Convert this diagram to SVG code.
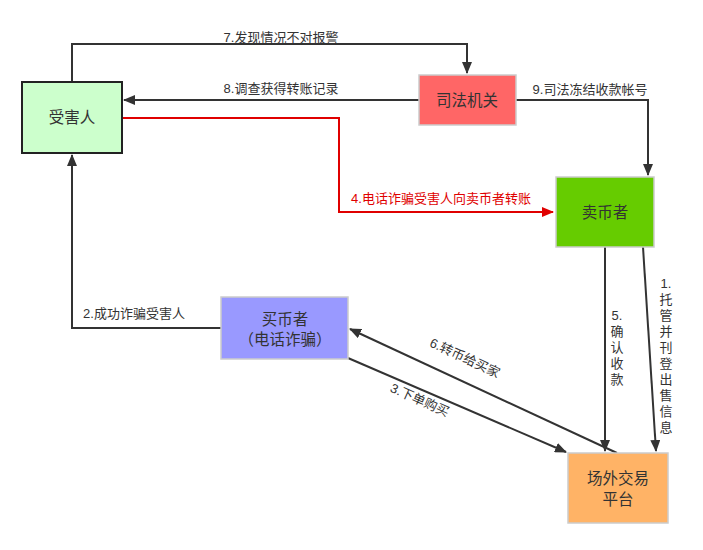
<svg xmlns="http://www.w3.org/2000/svg" width="703" height="550" viewBox="0 0 703 550">
<defs>
<marker id="ah" viewBox="0 0 12 10" refX="11" refY="5" markerWidth="12" markerHeight="10" markerUnits="userSpaceOnUse" orient="auto">
<path d="M0,0 L12,5 L0,10 Z" fill="#333"/>
</marker>
<marker id="ahr" viewBox="0 0 12 10" refX="11" refY="5" markerWidth="12" markerHeight="10" markerUnits="userSpaceOnUse" orient="auto">
<path d="M0,0 L12,5 L0,10 Z" fill="#e00000"/>
</marker>
</defs>
<style>
text{font-family:"Liberation Sans","Noto Sans CJK SC",sans-serif;fill:#333}
.n{font-size:15.5px;text-anchor:middle;dominant-baseline:central}
.l{font-size:13px}
.c{fill:none;stroke:#333;stroke-width:2}
.r{fill:none;stroke:#e00000;stroke-width:2}
.vt{font-size:13px;text-anchor:middle}
</style>
<rect width="703" height="550" fill="#fff"/>
<g id="connectors">
<polyline class="c" points="72,82 72,44 467,44 467,73" marker-end="url(#ah)"/>
<text class="l" x="281" y="42" text-anchor="middle">7.发现情况不对报警</text>
<line class="c" x1="419" y1="100" x2="124" y2="100" marker-end="url(#ah)"/>
<text class="l" x="281" y="93" text-anchor="middle">8.调查获得转账记录</text>
<polyline class="r" points="122,118 339,118 339,212 553,212" marker-end="url(#ahr)"/>
<text class="l" x="441" y="203" text-anchor="middle" style="fill:#e00000">4.电话诈骗受害人向卖币者转账</text>
<polyline class="c" points="516,100 648,100 648,175" marker-end="url(#ah)"/>
<text class="l" x="590" y="94" text-anchor="middle">9.司法冻结收款帐号</text>
<polyline class="c" points="221,328 72,328 72,155" marker-end="url(#ah)"/>
<text class="l" x="134" y="318" text-anchor="middle">2.成功诈骗受害人</text>
<line class="c" x1="605" y1="247" x2="605" y2="451" marker-end="url(#ah)"/>
<line class="c" x1="643" y1="247" x2="656" y2="451" marker-end="url(#ah)"/>
<g class="vt">
<text x="617" y="320">5.</text>
<text x="617" y="336">确</text>
<text x="617" y="352">认</text>
<text x="617" y="368">收</text>
<text x="617" y="384">款</text>
</g>
<g class="vt">
<text x="666" y="288">1.</text>
<text x="666" y="304">托</text>
<text x="666" y="320">管</text>
<text x="666" y="336">并</text>
<text x="666" y="352">刊</text>
<text x="666" y="368">登</text>
<text x="666" y="384">出</text>
<text x="666" y="400">售</text>
<text x="666" y="416">信</text>
<text x="666" y="432">息</text>
</g>
<line class="c" x1="617" y1="453" x2="350" y2="329" marker-end="url(#ah)"/>
<text class="l" text-anchor="middle" transform="translate(463,362) rotate(25)">6.转币给买家</text>
<line class="c" x1="348" y1="358" x2="566" y2="452" marker-end="url(#ah)"/>
<text class="l" text-anchor="middle" transform="translate(418,404) rotate(24)">3.下单购买</text>
</g>
<g id="victim">
<rect x="22" y="82" width="100" height="71" fill="#ccffcc" stroke="#222" stroke-width="2"/>
<text class="n" x="72" y="117">受害人</text>
</g>
<g id="judicial">
<rect x="419" y="75" width="97" height="50" fill="#ff6666" stroke="#ccc" stroke-width="1.5"/>
<text class="n" x="467" y="100">司法机关</text>
</g>
<g id="seller">
<rect x="556" y="177" width="98" height="70" fill="#66cc00" stroke="#ccc" stroke-width="1.5"/>
<text class="n" x="605" y="212">卖币者</text>
</g>
<g id="buyer">
<rect x="221" y="297" width="127" height="62" fill="#9999ff" stroke="#ccc" stroke-width="1.5"/>
<text class="n" x="285" y="319">买币者</text>
<text class="n" x="285" y="339">（电话诈骗）</text>
</g>
<g id="platform">
<rect x="568" y="453" width="100" height="70" fill="#ffb366" stroke="#ccc" stroke-width="1.5"/>
<text class="n" x="618" y="478">场外交易</text>
<text class="n" x="618" y="499">平台</text>
</g>
</svg>
